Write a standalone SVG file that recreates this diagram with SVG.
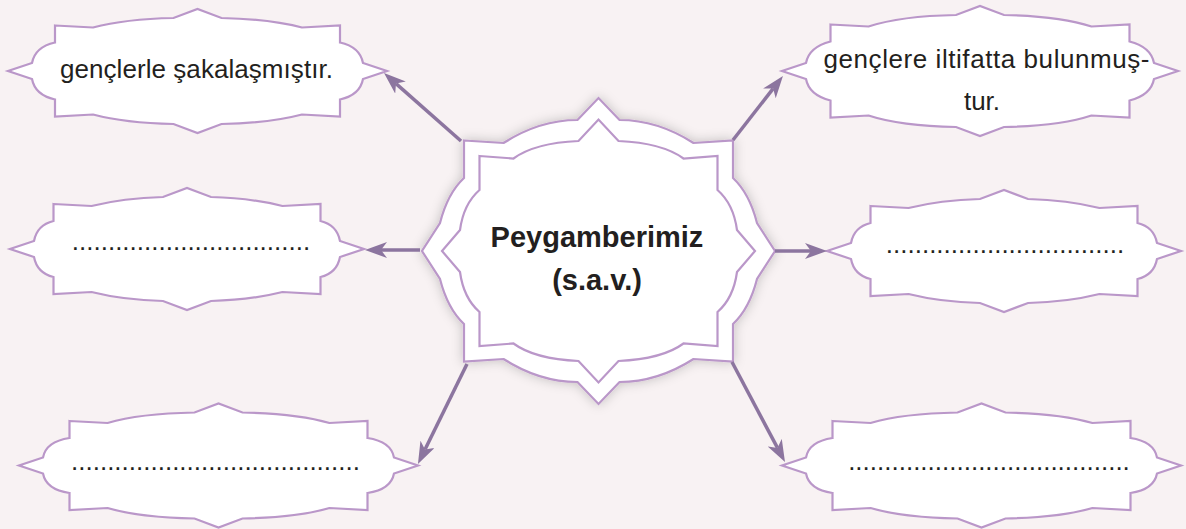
<svg xmlns="http://www.w3.org/2000/svg" width="1186" height="529" viewBox="0 0 1186 529">
  <style>
    .shape { fill: #ffffff; stroke: #ba97c9; stroke-width: 2.2; stroke-linejoin: miter; }
    .txt { font-family: "Liberation Sans", Arial, sans-serif; font-size: 26px; fill: #231f20; text-anchor: middle; }
    .bold { font-weight: bold; font-size: 29px; }
    .conn { stroke: #8c759f; stroke-width: 3.5; fill: none; marker-end: url(#ah); }
  </style>
  <defs>
    <marker id="ah" markerWidth="22" markerHeight="16" refX="6" refY="8" orient="auto" markerUnits="userSpaceOnUse" viewBox="0 0 22 16">
      <path d="M0,0 L22,8 L0,16 L6,8 Z" fill="#8c759f"/>
    </marker>
    <filter id="shadow" x="-20%" y="-20%" width="140%" height="140%">
      <feDropShadow dx="0" dy="0" stdDeviation="6" flood-color="#000000" flood-opacity="0.22"/>
    </filter>
    <path id="midShape" d="M -133.5,-45 L -95.5,-43 Q -63.5,-51 -24,-52 L 0,-61 L 24,-52 Q 63.5,-51 95.5,-43 L 133.5,-45 L 133.5,-28 Q 150,-24 153,-8 L 177,0 L 153,8 Q 150,24 133.5,28 L 133.5,45 L 95.5,43 Q 63.5,51 24,52 L 0,61 L -24,52 Q -63.5,51 -95.5,43 L -133.5,45 L -133.5,28 Q -150,24 -153,8 L -177,0 L -153,-8 Q -150,-24 -133.5,-28 Z"/>
    <path id="botShape" d="M -149,-44.5 L -111,-42.5 Q -79,-52 -24,-53 L 0,-62 L 24,-53 Q 79,-52 111,-42.5 L 149,-44.5 L 149,-27.5 Q 172.5,-24 175.5,-8 L 199.5,0 L 175.5,8 Q 172.5,24 149,27.5 L 149,44.5 L 111,42.5 Q 79,52 24,53 L 0,62 L -24,53 Q -79,52 -111,42.5 L -149,44.5 L -149,27.5 Q -172.5,24 -175.5,8 L -199.5,0 L -175.5,-8 Q -172.5,-24 -149,-27.5 Z"/>
  </defs>

  <rect x="0" y="0" width="1186" height="529" fill="#f8f2f3"/>

  <g id="node-center">
    <path class="shape" filter="url(#shadow)" transform="translate(598.5,251)" d="M -134.5,-110.5 L -95,-108 Q -59,-131 -21,-131 L 0,-153 L 21,-131 Q 59,-131 95,-108 L 134.5,-110.5 L 134.5,-73 Q 151,-57.5 158.5,-28 L 176.5,0 L 158.5,28 Q 151,57.5 134.5,73 L 134.5,110.5 L 95,108 Q 59,131 21,131 L 0,153 L -21,131 Q -59,131 -95,108 L -134.5,110.5 L -134.5,73 Q -151,57.5 -158.5,28 L -176.5,0 L -158.5,-28 Q -151,-57.5 -134.5,-73 Z"/>
    <path class="shape" transform="translate(598.5,251)" d="M -119,-95 L -85,-92.5 Q -64,-108 -20,-110 L 0,-131.5 L 20,-110 Q 64,-108 85,-92.5 L 119,-95 L 119,-61 Q 135,-47 138.5,-21 L 156.5,0 L 138.5,21 Q 135,47 119,61 L 119,95 L 85,92.5 Q 64,108 20,110 L 0,131.5 L -20,110 Q -64,108 -85,92.5 L -119,95 L -119,61 Q -135,47 -138.5,21 L -156.5,0 L -138.5,-21 Q -135,-47 -119,-61 Z"/>
    <text class="txt bold" x="597" y="247">Peygamberimiz</text>
    <text class="txt bold" x="597" y="290">(s.a.v.)</text>
  </g>

  <g id="node-top-left">
    <path class="shape" transform="translate(197.5,71)" d="M -142.5,-45.5 L -104.5,-43.5 Q -72.5,-52 -24,-53 L 0,-62 L 24,-53 Q 72.5,-52 104.5,-43.5 L 142.5,-45.5 L 142.5,-28.5 Q 162.5,-24 165.5,-8 L 189.5,0 L 165.5,8 Q 162.5,24 142.5,28.5 L 142.5,45.5 L 104.5,43.5 Q 72.5,52 24,53 L 0,62 L -24,53 Q -72.5,52 -104.5,43.5 L -142.5,45.5 L -142.5,28.5 Q -162.5,24 -165.5,8 L -189.5,0 L -165.5,-8 Q -162.5,-24 -142.5,-28.5 Z"/>
    <text class="txt" x="196.5" y="78" textLength="273" lengthAdjust="spacing">gençlerle şakalaşmıştır.</text>
  </g>

  <g id="node-top-right">
    <path class="shape" transform="translate(980,71)" d="M -149.5,-46.5 L -111.5,-44.5 Q -79.5,-55 -24,-56 L 0,-65 L 24,-56 Q 79.5,-55 111.5,-44.5 L 149.5,-46.5 L 149.5,-29.5 Q 171,-24 174,-8 L 198,0 L 174,8 Q 171,24 149.5,29.5 L 149.5,46.5 L 111.5,44.5 Q 79.5,55 24,56 L 0,65 L -24,56 Q -79.5,55 -111.5,44.5 L -149.5,46.5 L -149.5,29.5 Q -171,24 -174,8 L -198,0 L -174,-8 Q -171,-24 -149.5,-29.5 Z"/>
    <text class="txt" x="986.5" y="68" textLength="326" lengthAdjust="spacing">gençlere iltifatta bulunmuş-</text>
    <text class="txt" x="982" y="110">tur.</text>
  </g>

  <g id="node-mid-left">
    <use href="#midShape" class="shape" transform="translate(187,249)"/>
    <text class="txt" x="191" y="249.5">.................................</text>
  </g>

  <g id="node-mid-right">
    <use href="#midShape" class="shape" transform="translate(1004,251)"/>
    <text class="txt" x="1005" y="252.5">.................................</text>
  </g>

  <g id="node-bottom-left">
    <use href="#botShape" class="shape" transform="translate(218.5,465.5)"/>
    <text class="txt" x="215.5" y="469.5">........................................</text>
  </g>

  <g id="node-bottom-right">
    <use href="#botShape" class="shape" transform="translate(981.5,465.5)"/>
    <text class="txt" x="989" y="469.5">.......................................</text>
  </g>

  <g id="connectors">
    <line class="conn" x1="461" y1="141" x2="396" y2="83.6"/>
    <line class="conn" x1="733" y1="140" x2="773.1" y2="88.6"/>
    <line class="conn" x1="420" y1="250" x2="381" y2="250"/>
    <line class="conn" x1="775" y1="251" x2="811" y2="251"/>
    <line class="conn" x1="467" y1="364" x2="425" y2="449.6"/>
    <line class="conn" x1="732" y1="362" x2="777.5" y2="447.9"/>
  </g>
</svg>
